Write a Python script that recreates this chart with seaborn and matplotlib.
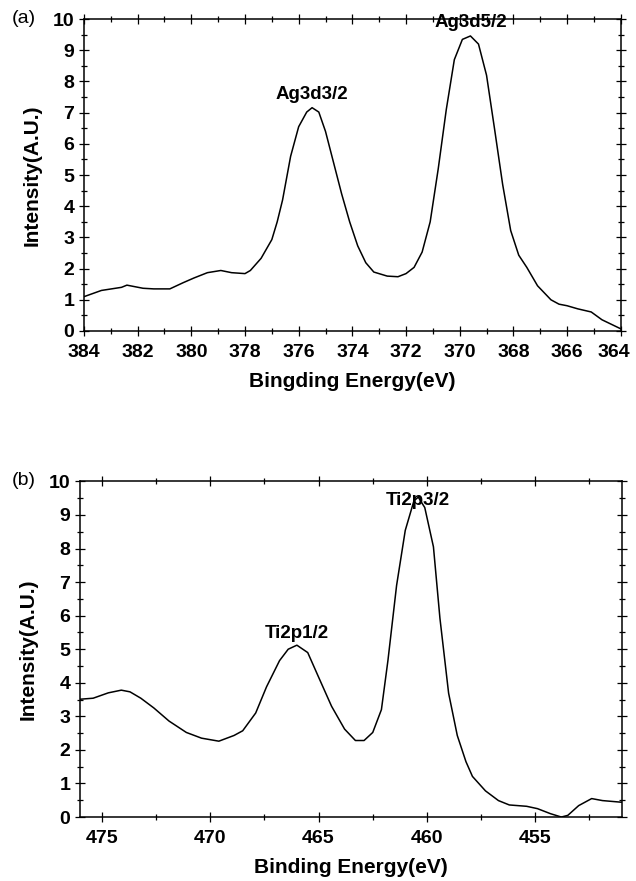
import numpy as np
import pandas as pd
import matplotlib
matplotlib.use("Agg")
import matplotlib.pyplot as plt
import matplotlib.transforms as mtransforms
import seaborn as sns
from matplotlib.ticker import MultipleLocator

# (a) Ag 3d spectrum
ag_energy = [384.0, 383.35, 382.6, 382.4, 381.8, 381.4, 380.8, 380.3, 379.9, 379.4,
             378.9, 378.5, 378.0, 377.8, 377.4, 377.0, 376.8, 376.6, 376.3, 376.0,
             375.7, 375.5, 375.25, 375.0, 374.7, 374.4, 374.1, 373.8, 373.5, 373.2,
             372.7, 372.3, 372.0, 371.7, 371.4, 371.1, 370.8, 370.5, 370.2, 369.9,
             369.6, 369.3, 369.0, 368.7, 368.4, 368.1, 367.8, 367.5, 367.1, 366.6,
             366.3, 366.0, 365.6, 365.1, 364.7, 364.0]
ag_intensity = [1.10, 1.30, 1.40, 1.47, 1.37, 1.35, 1.35, 1.55, 1.70, 1.87,
                1.94, 1.87, 1.84, 1.94, 2.33, 2.93, 3.50, 4.20, 5.60, 6.55,
                7.02, 7.16, 7.02, 6.40, 5.40, 4.40, 3.50, 2.73, 2.19, 1.89,
                1.76, 1.74, 1.84, 2.04, 2.53, 3.50, 5.20, 7.10, 8.70, 9.35,
                9.46, 9.20, 8.20, 6.47, 4.70, 3.22, 2.43, 2.04, 1.45, 1.00,
                0.86, 0.81, 0.71, 0.61, 0.36, 0.07]
ag_peaks = ["Ag3d3/2", "Ag3d5/2"]
ag_peak_pos = [375.5, 369.6]
ag_peak_val = [7.16, 9.46]

# (b) Ti 2p spectrum
ti_energy = [476.0, 475.4, 474.7, 474.1, 473.7, 473.2, 472.6, 471.9, 471.1, 470.4,
             469.6, 468.9, 468.5, 467.9, 467.4, 466.8, 466.4, 466.0, 465.5, 465.0,
             464.4, 463.8, 463.3, 462.9, 462.5, 462.1, 461.8, 461.4, 461.0, 460.6,
             460.4, 460.1, 459.7, 459.4, 459.0, 458.6, 458.2, 457.9, 457.3, 456.7,
             456.2, 455.4, 454.9, 454.3, 453.8, 453.5, 453.0, 452.4, 451.9, 451.0]
ti_intensity = [3.51, 3.54, 3.70, 3.78, 3.73, 3.54, 3.25, 2.86, 2.52, 2.35,
                2.26, 2.43, 2.57, 3.10, 3.88, 4.66, 5.00, 5.12, 4.90, 4.17,
                3.30, 2.62, 2.28, 2.28, 2.52, 3.20, 4.66, 6.90, 8.54, 9.42,
                9.53, 9.22, 8.05, 5.92, 3.69, 2.43, 1.65, 1.21, 0.78, 0.49,
                0.36, 0.32, 0.25, 0.10, 0.00, 0.05, 0.34, 0.55, 0.49, 0.44]
ti_peaks = ["Ti2p1/2", "Ti2p3/2"]
ti_peak_pos = [466.0, 460.4]
ti_peak_val = [5.12, 9.53]

sns.set_style("ticks")
plt.rcParams["font.family"] = ["Liberation Sans", "DejaVu Sans"]
plt.rcParams["text.color"] = "black"
plt.rcParams["axes.labelcolor"] = "black"
plt.rcParams["xtick.color"] = "black"
plt.rcParams["ytick.color"] = "black"
plt.rcParams["axes.edgecolor"] = "black"

fig = plt.figure(figsize=(6.36, 8.81), dpi=100)
ax1 = fig.add_axes([0.132, 0.6243, 0.844, 0.354])
ax2 = fig.add_axes([0.126, 0.0726, 0.852, 0.381])

df_a = pd.DataFrame({"energy": ag_energy, "intensity": ag_intensity})
df_b = pd.DataFrame({"energy": ti_energy, "intensity": ti_intensity})

sns.lineplot(data=df_a, x="energy", y="intensity", ax=ax1, color="black", lw=1.1, sort=False)
sns.lineplot(data=df_b, x="energy", y="intensity", ax=ax2, color="black", lw=1.1, sort=False)

ax1.set_xlim(384, 364)
ax2.set_xlim(476, 451)
ax1.set_xticks(np.arange(364, 385, 2))
ax1.xaxis.set_minor_locator(MultipleLocator(1))
ax2.xaxis.set_major_locator(MultipleLocator(5))
ax2.xaxis.set_minor_locator(MultipleLocator(2.5))

for ax in (ax1, ax2):
    ax.set_ylim(0, 10)
    ax.yaxis.set_major_locator(MultipleLocator(1))
    ax.yaxis.set_minor_locator(MultipleLocator(0.5))
    ax.tick_params(which="both", direction="inout", top=True, right=True,
                   length=7, width=0.9, labelsize=14)
    ax.tick_params(which="minor", length=5)
    ax.tick_params(axis="x", pad=6)
    for lab in ax.get_xticklabels() + ax.get_yticklabels():
        lab.set_fontweight("bold")
    for s in ax.spines.values():
        s.set_linewidth(1.1)
    ax.set_ylabel("Intensity(A.U.)", fontsize=15, fontweight="bold", labelpad=8)

ax1.set_xlabel("Bingding Energy(eV)", fontsize=15, fontweight="bold", labelpad=8)
ax2.set_xlabel("Binding Energy(eV)", fontsize=15, fontweight="bold", labelpad=8)

# the "364" label sits at the figure edge, keep it inside
for lab in ax1.get_xticklabels():
    if lab.get_text() == "364":
        lab.set_horizontalalignment("right")
        lab.set_transform(lab.get_transform() +
                          mtransforms.ScaledTranslation(7 / 72, 0, fig.dpi_scale_trans))

for name, px, py in zip(ag_peaks, ag_peak_pos, ag_peak_val):
    ax1.text(px, py + 0.15, name, ha="center", va="bottom", fontsize=13.5, fontweight="bold")
for name, px, py in zip(ti_peaks, ti_peak_pos, ti_peak_val):
    ax2.text(px, py + 0.1 if py < 9 else py - 0.35, name, ha="center", va="bottom",
             fontsize=13.5, fontweight="bold")

fig.text(0.018, 0.979, "(a)", fontsize=14, va="center")
fig.text(0.018, 0.455, "(b)", fontsize=14, va="center")

fig.savefig("out.png", dpi=100)
